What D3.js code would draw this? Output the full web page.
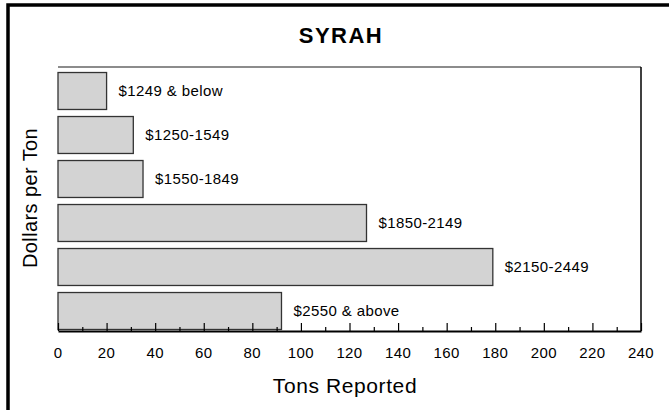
<!DOCTYPE html>
<html>
<head>
<meta charset="utf-8">
<script src="https://cdn.jsdelivr.net/npm/d3@7"></script>
<style>
	body { margin: 0; background: #fff; }
	svg { display: block; font-family: "Liberation Sans", Arial, sans-serif; }
</style>
</head>
<body>
<svg id="chart"></svg>
<script>
// price bands, top to bottom
const categories = ["$1249 & below", "$1250-1549", "$1550-1849", "$1850-2149", "$2150-2449", "$2550 & above"];
const tons = [20, 31, 35, 127, 179, 92];
const majorTicks = [0, 20, 40, 60, 80, 100, 120, 140, 160, 180, 200, 220, 240];

const width = 669, height = 410;
const svg = d3.select("#chart").attr("width", width).attr("height", height);

const x = d3.scaleLinear().domain([0, 240]).range([58, 641]);
const y = d3.scaleBand().domain(categories).range([69, 333])
	.paddingInner(0.16).paddingOuter(0.08);

// outer frame (cut off at right and bottom like the original)
svg.append("rect")
	.attr("x", 8).attr("y", 5)
	.attr("width", 700).attr("height", 450)
	.attr("fill", "none").attr("stroke", "#000").attr("stroke-width", 3.5);

// plot frame
svg.append("line").attr("x1", x(0)).attr("x2", x(240)).attr("y1", 67).attr("y2", 67)
	.attr("stroke", "#666").attr("stroke-width", 1.5);
svg.append("line").attr("x1", x(240)).attr("x2", x(240)).attr("y1", 67).attr("y2", 331)
	.attr("stroke", "#000").attr("stroke-width", 1.5);

// bars
svg.selectAll("rect.bar")
	.data(categories)
	.join("rect")
	.attr("class", "bar")
	.attr("x", x(0))
	.attr("y", d => y(d))
	.attr("width", (d, i) => x(tons[i]) - x(0))
	.attr("height", y.bandwidth())
	.attr("fill", "#d3d3d3")
	.attr("stroke", "#333")
	.attr("stroke-width", 1.3);

svg.selectAll("text.lbl")
	.data(categories)
	.join("text")
	.attr("class", "lbl")
	.attr("x", (d, i) => x(tons[i]) + 12)
	.attr("y", d => y(d) + y.bandwidth() / 2)
	.attr("dy", "0.35em")
	.attr("font-size", 15)
	.attr("letter-spacing", 0.4)
	.text(d => d);

// x axis, ticks pointing up into the plot
const axis = svg.append("g").attr("transform", "translate(0,331)");
axis.call(d3.axisBottom(x).tickValues(d3.range(0, 241, 10)).tickSize(0).tickFormat(""));
axis.select(".domain").attr("stroke", "#000").attr("stroke-width", 2);
axis.selectAll(".tick line")
	.attr("y2", d => d % 20 == 0 ? -8 : -4)
	.attr("stroke", "#000").attr("stroke-width", 1.2);

svg.selectAll("text.tick")
	.data(majorTicks)
	.join("text")
	.attr("class", "tick")
	.attr("x", d => x(d))
	.attr("y", 353)
	.attr("dy", "0.35em")
	.attr("text-anchor", "middle")
	.attr("font-size", 15)
	.attr("letter-spacing", 0.4)
	.text(d => d);

// titles
svg.append("text")
	.attr("x", 341).attr("y", 43)
	.attr("text-anchor", "middle")
	.attr("font-size", 22).attr("font-weight", "bold")
	.attr("letter-spacing", 1.5)
	.text("SYRAH");

svg.append("text")
	.attr("x", 345).attr("y", 393)
	.attr("text-anchor", "middle")
	.attr("font-size", 21)
	.attr("letter-spacing", 0.6)
	.text("Tons Reported");

svg.append("text")
	.attr("transform", "translate(37,198) rotate(-90)")
	.attr("text-anchor", "middle")
	.attr("font-size", 20)
	.attr("letter-spacing", 0.4)
	.text("Dollars per Ton");
</script>
</body>
</html>
